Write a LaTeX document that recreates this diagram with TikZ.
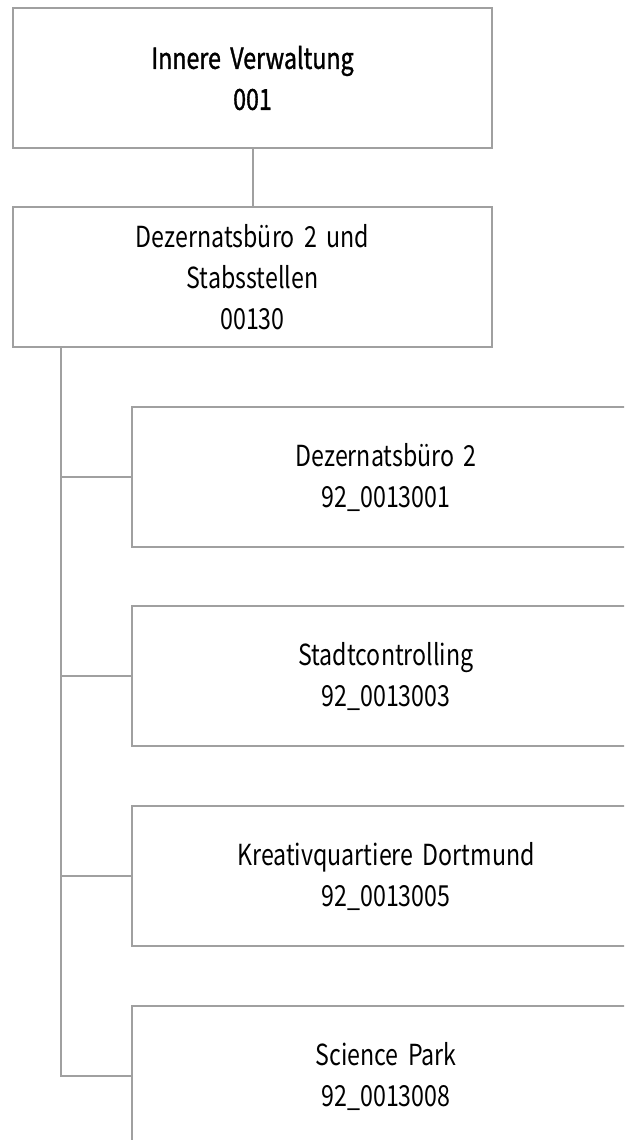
\documentclass[tikz,border=0pt]{standalone}
\usepackage{fontspec}
\setmainfont{Noto Sans CJK KR}[FakeStretch=0.8, WordSpace=1.8]
\newfontfamily\headfont{Noto Sans CJK KR}[FakeStretch=0.8, WordSpace=1.8, FakeBold=1.2]
\usetikzlibrary{positioning,calc}
\definecolor{linegray}{HTML}{A0A0A0}

\begin{document}
\begin{tikzpicture}[x=1pt, y=-1pt,
  font=\fontsize{29pt}{41pt}\selectfont,
  orgbox/.style={draw=linegray, line width=2pt, align=center, inner sep=0pt,
    minimum height=140pt},
  conn/.style={draw=linegray, line width=2pt}]
\useasboundingbox (0,0) rectangle (624,1140);
\clip (0,0) rectangle (624,1140);
\node[orgbox, minimum width=479pt, font=\fontsize{29pt}{41pt}\headfont] (amt) at (252.5,78) {Innere Verwaltung\\001};
\node[orgbox, minimum width=479pt] (dez) at (252.5,277) {Dezernatsbüro 2 und\\Stabsstellen\\00130};
\node[orgbox, minimum width=508pt] (sub1) at (386,477) {Dezernatsbüro 2\\92\_0013001};
\node[orgbox, minimum width=508pt] (sub2) at (386,676) {Stadtcontrolling\\92\_0013003};
\node[orgbox, minimum width=508pt] (sub3) at (386,876) {Kreativquartiere Dortmund\\92\_0013005};
\node[orgbox, minimum width=508pt] (sub4) at (386,1076) {Science Park\\92\_0013008};
\draw[conn] (amt) -- (dez);
% trunk
\coordinate (trunk) at (61,0);
\draw[conn] (trunk |- dez.south) |- (sub4.west);
\foreach \s in {sub1,sub2,sub3} {
  \draw[conn] (trunk |- \s.west) -- (\s.west);
}
\end{tikzpicture}
\end{document}
